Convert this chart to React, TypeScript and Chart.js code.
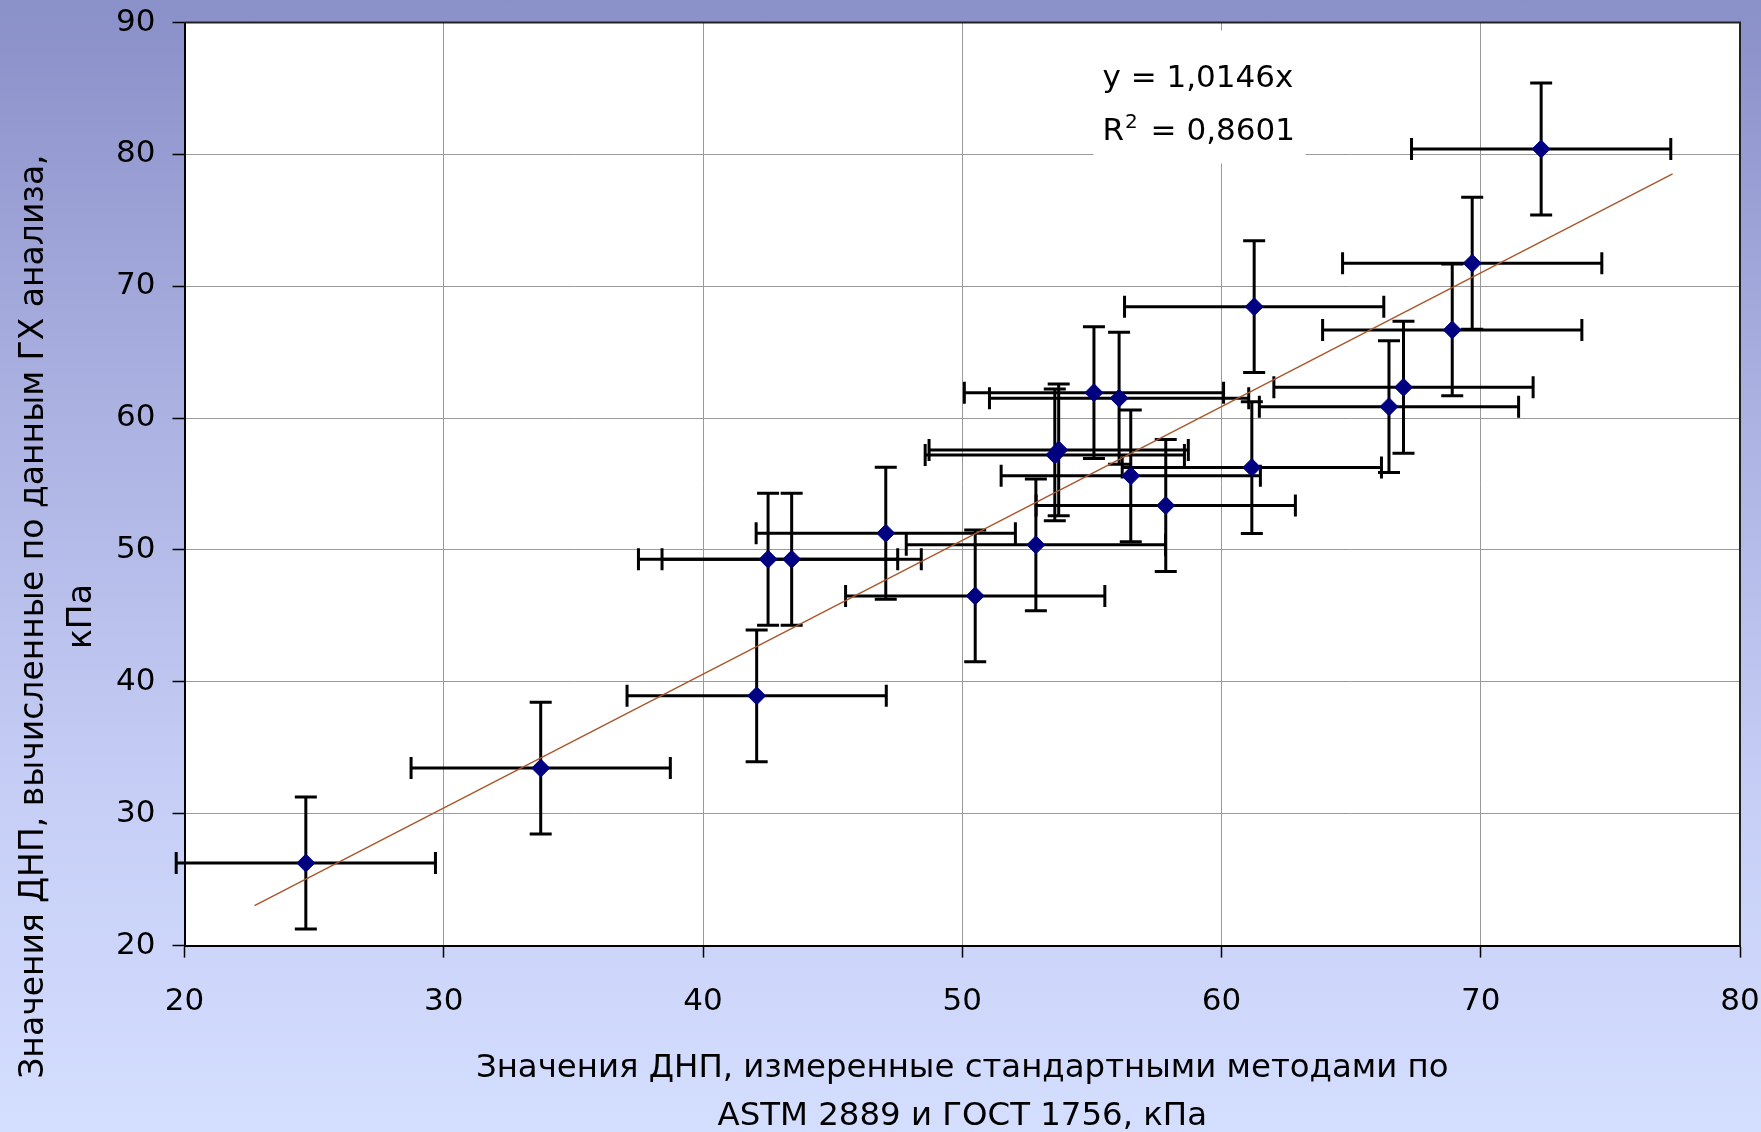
import React, { useEffect, useRef } from "react";
import { Chart, registerables } from "chart.js";

Chart.register(...registerables);

// ---- data ----
const measuredX = [24.68, 33.74, 42.07, 42.51, 43.42, 47.05, 50.5, 52.84, 53.57, 53.72, 55.08, 56.05, 56.5, 57.85, 61.17, 61.26, 66.46, 67.02, 68.9, 69.67, 72.33];
const computedY = [26.26, 33.46, 38.94, 49.3, 49.3, 51.27, 46.52, 50.39, 57.21, 57.59, 61.93, 61.51, 55.62, 53.37, 56.25, 68.45, 60.87, 62.34, 66.69, 71.74, 80.41];
const xErr = [5, 5, 5, 5, 5, 5, 5, 5, 5, 5, 5, 5, 5, 5, 5, 5, 5, 5, 5, 5, 5];
const yErr = [5, 5, 5, 5, 5, 5, 5, 5, 5, 5, 5, 5, 5, 5, 5, 5, 5, 5, 5, 5, 5];
const trendX = [22.7, 77.4];
const SLOPE = 1.0146;
const EQ_LINE1 = "y = 1,0146x";
const EQ_R2_VALUE = " = 0,8601";
const xRange = [20, 80];
const yRange = [20, 90];
const xTitleLines = ["Значения ДНП, измеренные стандартными методами по", "ASTM 2889 и ГОСТ 1756, кПа"];
const yTitleLines = ["Значения ДНП, вычисленные по данным ГХ анализа,", "кПа"];

const FONT = "'DejaVu Sans', 'Liberation Sans', sans-serif";
const CAP = 11;

const decorPlugin = {
  id: "decor",
  beforeDraw(chart: any) {
    const { ctx, chartArea: a } = chart;
    ctx.save();
    ctx.fillStyle = "#ffffff";
    ctx.fillRect(a.left, a.top, a.right - a.left, a.bottom - a.top);
    ctx.restore();
  },
  beforeDatasetsDraw(chart: any) {
    const { ctx, chartArea: a } = chart;
    const xs = chart.scales.x;
    const ys = chart.scales.y;
    ctx.save();
    // top / right frame
    ctx.strokeStyle = "#222";
    ctx.lineWidth = 2;
    ctx.beginPath();
    ctx.moveTo(a.left, a.top);
    ctx.lineTo(a.right, a.top);
    ctx.lineTo(a.right, a.bottom);
    ctx.stroke();

    // equation label box
    const bx = a.left + 909;
    const by = a.top + 8;
    ctx.fillStyle = "#ffffff";
    ctx.fillRect(bx, by, 212, 133);
    ctx.fillStyle = "#000";
    ctx.textAlign = "left";
    ctx.textBaseline = "alphabetic";
    ctx.font = `31px ${FONT}`;
    const tx = bx + 9;
    ctx.fillText(EQ_LINE1, tx, a.top + 64);
    const base2 = a.top + 117;
    ctx.fillText("R", tx, base2);
    const wR = ctx.measureText("R").width;
    ctx.font = `20px ${FONT}`;
    ctx.fillText("2", tx + wR + 1, base2 - 12);
    const w2 = ctx.measureText("2").width;
    ctx.font = `31px ${FONT}`;
    ctx.fillText(EQ_R2_VALUE, tx + wR + w2 + 4, base2);

    // error bars
    ctx.strokeStyle = "#000";
    ctx.lineWidth = 3;
    ctx.lineCap = "butt";
    measuredX.forEach((xv, i) => {
      const yv = computedY[i];
      const px = xs.getPixelForValue(xv);
      const py = ys.getPixelForValue(yv);
      const x0 = xs.getPixelForValue(xv - xErr[i]);
      const x1 = xs.getPixelForValue(xv + xErr[i]);
      const y0 = ys.getPixelForValue(yv - yErr[i]);
      const y1 = ys.getPixelForValue(yv + yErr[i]);
      ctx.beginPath();
      ctx.moveTo(x0, py);
      ctx.lineTo(x1, py);
      ctx.moveTo(x0, py - CAP);
      ctx.lineTo(x0, py + CAP);
      ctx.moveTo(x1, py - CAP);
      ctx.lineTo(x1, py + CAP);
      ctx.moveTo(px, y0);
      ctx.lineTo(px, y1);
      ctx.moveTo(px - CAP, y0);
      ctx.lineTo(px + CAP, y0);
      ctx.moveTo(px - CAP, y1);
      ctx.lineTo(px + CAP, y1);
      ctx.stroke();
    });
    ctx.restore();
  },
  afterDraw(chart: any) {
    const { ctx, chartArea: a } = chart;
    ctx.save();
    ctx.fillStyle = "#000";
    ctx.font = `33px ${FONT}`;
    ctx.textAlign = "center";
    ctx.textBaseline = "middle";
    const cy = a.bottom - 329;
    const xs = [34, 82];
    yTitleLines.forEach((line, i) => {
      ctx.save();
      ctx.translate(xs[i], cy);
      ctx.rotate(-Math.PI / 2);
      ctx.fillText(line, 0, 0);
      ctx.restore();
    });
    ctx.restore();
  },
};

export default function App() {
  const canvasRef = useRef<HTMLCanvasElement | null>(null);

  useEffect(() => {
    document.body.style.margin = "0";
    const canvas = canvasRef.current;
    if (!canvas) return;
    const points = measuredX.map((x, i) => ({ x, y: computedY[i] }));
    const trend = trendX.map((x) => ({ x, y: SLOPE * x }));

    const chart = new Chart(canvas, {
      type: "scatter",
      data: {
        datasets: [
          {
            label: "ДНП",
            data: points,
            pointStyle: "rectRot",
            pointRadius: 9,
            pointHoverRadius: 9,
            backgroundColor: "#000080",
            borderColor: "#000080",
            borderWidth: 1,
            showLine: false,
          },
          {
            label: "trend",
            data: trend,
            showLine: true,
            borderColor: "#a9562a",
            borderWidth: 1.4,
            pointRadius: 0,
            fill: false,
          },
        ],
      },
      options: {
        animation: false,
        responsive: false,
        devicePixelRatio: 1,
        layout: { padding: { left: 0, top: 22.5, right: 21, bottom: 0 } },
        plugins: {
          legend: { display: false },
          tooltip: { enabled: false },
        },
        scales: {
          x: {
            type: "linear",
            min: xRange[0],
            max: xRange[1],
            ticks: {
              stepSize: 10,
              color: "#000",
              padding: 26,
              font: { family: FONT, size: 31 },
            },
            grid: {
              color: "#9a9a9a",
              lineWidth: 1,
              tickLength: 12,
              tickColor: "#000",
              tickWidth: 1.5,
            },
            border: { display: true, color: "#000", width: 2 },
            title: {
              display: true,
              text: xTitleLines,
              color: "#000",
              font: { family: FONT, size: 32.4, lineHeight: 48 / 32.4 },
              padding: { top: 0, bottom: -9 },
            },
            afterFit: (scale: any) => {
              scale.height = 186.4;
              scale.paddingLeft = 0;
              scale.paddingRight = 0;
            },
          },
          y: {
            type: "linear",
            min: yRange[0],
            max: yRange[1],
            ticks: {
              stepSize: 10,
              color: "#000",
              padding: 17,
              font: { family: FONT, size: 31 },
            },
            grid: {
              color: "#9a9a9a",
              lineWidth: 1,
              tickLength: 12,
              tickColor: "#000",
              tickWidth: 1.5,
            },
            border: { display: true, color: "#000", width: 2 },
            afterFit: (scale: any) => {
              scale.width = 184.5;
              scale.paddingTop = 0;
              scale.paddingBottom = 0;
            },
          },
        },
      },
      plugins: [decorPlugin],
    } as any);

    return () => chart.destroy();
  }, []);

  return (
    <div
      style={{
        width: 1761,
        height: 1132,
        background:
          "linear-gradient(to bottom, #8a90c8 0%, #aab0e0 35%, #c6cef6 70%, #d4defe 100%)",
      }}
    >
      <canvas ref={canvasRef} width={1761} height={1132} style={{ display: "block" }} />
    </div>
  );
}
